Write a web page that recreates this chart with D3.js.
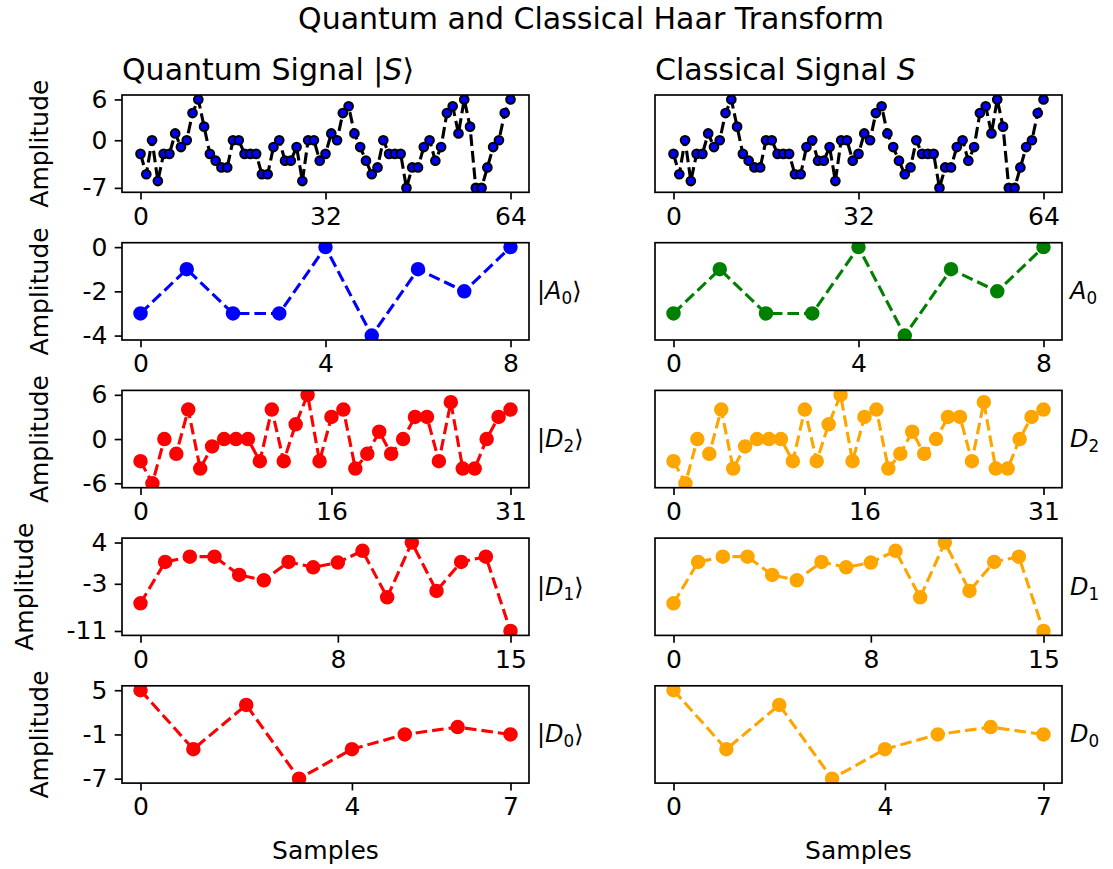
<!DOCTYPE html>
<html>
<head>
<meta charset="utf-8">
<script src="https://cdn.jsdelivr.net/npm/d3@7"></script>
<style>
body{margin:0;background:#fff;}
svg{font-family:'DejaVu Sans',sans-serif;}
</style>
</head>
<body>
<div class="chart-container"></div>
<script>
//Data
const signalValues = [-2,-5,0,-6,-2,-2,1,-1,0,4,6,2,-2,-3,-4,-4,0,0,-2,-2,-2,-5,-5,-1,0,-3,-3,-1,-6,0,0,-3,
                      -2,1,0,4,5,1,-1,-3,-5,-4,0,-2,-2,-2,-7,-4,-4,-1,0,-3,-1,4,5,1,6,2,-7,-7,-4,-1,0,4,6];
const a0Values = [-3,-1,-3,-3,0,-4,-1,-2,0];
const d2Values = [-3,-6,0,-2,4,-4,-1,0,0,0,-3,4,-3,2,6,-3,3,4,-4,-2,1,-2,0,3,3,-3,5,-4,-4,0,3,4];
const d1Values = [-6.3,0.7,1.6,1.6,-1.5,-2.4,0.7,-0.2,0.6,2.6,-5.3,4,-4.2,0.7,1.6,-11];
const d0Values = [5,-3,3,-7,-3,-1,0,-1];

//Tick labels
const xTicksList = [[0,32,64],[0,4,8],[0,16,31],[0,8,15],[0,4,7]];
const yTicksList = [[-7,0,6],[-4,-2,0],[-6,0,6],[-11,-3,4],[-7,-1,5]];

//Labels
const rowNames = ['S','A','D','D','D'];
const rowSubs = ['', '0', '2', '1', '0'];

const colors = {
    quantum: ['#000000','#0000ff','#ff0000','#ff0000','#ff0000'],
    classical: ['#000000','#008000','#ffa500','#ffa500','#ffa500']
};

const svg_width = 1113;
const svg_height = 869;
const colLeft = [122, 655];
const axW = 407;
const axH = 97.3;
const rowTop = 95;
const rowStep = 147.7;
const fs = 25;

const svg = d3.select('.chart-container').append('svg')
    .attr('width', svg_width).attr('height', svg_height);

const defs = svg.append('defs');

function fmt(v){
    return String(v);
}

//write mathtext-like label: parts [{t, it, sub}]
function mathText(sel, parts){
    parts.forEach(p => {
        const ts = sel.append('tspan').text(p.t);
        if (p.it) ts.style('font-style','italic');
        if (p.sub) ts.attr('font-size','70%').attr('dy','0.3em');
        if (p.back) ts.attr('dy','-0.21em');
    });
}

function drawPanel(col, row, data){
    const x0 = colLeft[col];
    const y0 = rowTop + row*rowStep;
    const n = data.length - 1;
    const yMin = d3.min(data), yMax = d3.max(data);
    const yPad = (yMax - yMin)*0.05;
    const xScale = d3.scaleLinear().domain([-0.05*n, 1.05*n]).range([0, axW]);
    const yScale = d3.scaleLinear().domain([yMin - yPad, yMax + yPad]).range([axH, 0]);

    const g = svg.append('g').attr('transform', `translate(${x0},${y0})`);
    const clipId = `clip-${col}-${row}`;
    defs.append('clipPath').attr('id', clipId)
        .append('rect').attr('width', axW).attr('height', axH);

    const plot = g.append('g').attr('clip-path', `url(#${clipId})`);
    const color = col == 0 ? colors.quantum[row] : colors.classical[row];
    const line = d3.line().x((d,i)=>xScale(i)).y(d=>yScale(d));
    plot.append('path').datum(data)
        .attr('d', line)
        .attr('fill','none')
        .attr('stroke', color)
        .attr('stroke-width', 3.1)
        .attr('stroke-dasharray','11.6,5');

    const isSignal = row == 0;
    plot.selectAll('circle').data(data).enter().append('circle')
        .attr('cx',(d,i)=>xScale(i)).attr('cy', d=>yScale(d))
        .attr('r', isSignal ? 4.3 : 6.2)
        .attr('fill', isSignal ? '#0000ff' : color)
        .attr('stroke', isSignal ? '#000' : color)
        .attr('stroke-width', 2.1);

    //x axis
    const xAxis = d3.axisBottom(xScale).tickValues(xTicksList[row]).tickFormat(fmt)
        .tickSizeInner(7.3).tickSizeOuter(0).tickPadding(7.3);
    const xAxisDraw = g.append('g').attr('transform',`translate(0,${axH})`).call(xAxis);
    xAxisDraw.select('.domain').remove();
    xAxisDraw.selectAll('line').attr('stroke-width',1.67);
    xAxisDraw.selectAll('text').attr('font-size', fs).attr('font-family','DejaVu Sans').attr('fill','#000');

    //y axis only on left column
    if (col == 0){
        const yAxis = d3.axisLeft(yScale).tickValues(yTicksList[row]).tickFormat(fmt)
            .tickSizeInner(7.3).tickSizeOuter(0).tickPadding(7.3);
        const yAxisDraw = g.append('g').call(yAxis);
        yAxisDraw.select('.domain').remove();
        yAxisDraw.selectAll('line').attr('stroke-width',1.67);
        yAxisDraw.selectAll('text').attr('font-size', fs).attr('font-family','DejaVu Sans').attr('fill','#000');

        let minLeft = 0;
        yAxisDraw.selectAll('text').each(function(){
            minLeft = Math.min(minLeft, -14.6 - this.getBBox().width);
        });
        g.append('text')
            .attr('transform', `translate(${minLeft - 34},${axH/2}) rotate(-90)`)
            .attr('text-anchor','middle')
            .attr('font-size', fs)
            .text('Amplitude');
    }

    //frame on top
    g.append('rect').attr('width', axW).attr('height', axH)
        .attr('fill','none').attr('stroke','#000').attr('stroke-width',1.67);

    //right-side label
    if (row > 0){
        const lab = g.append('text')
            .attr('x', axW + 8)
            .attr('y', axH/2 + 8)
            .attr('font-size', 24);
        if (col == 0){
            mathText(lab, [{t:'|'},{t:rowNames[row], it:true},{t:rowSubs[row], sub:true},{t:'\u27E9', back:true}]);
        } else {
            mathText(lab, [{t:rowNames[row], it:true},{t:rowSubs[row], sub:true}]);
        }
    }

    //Samples label on bottom row
    if (row == 4){
        g.append('text').attr('x', axW/2).attr('y', axH + 76)
            .attr('text-anchor','middle').attr('font-size', fs).text('Samples');
    }
    return g;
}

//Main
const allData = [signalValues, a0Values, d2Values, d1Values, d0Values];
allData.forEach((d,i) => {
    drawPanel(0, i, d);
    drawPanel(1, i, d);
});

//Titles
svg.append('text').attr('x', 591).attr('y', 29)
    .attr('text-anchor','middle').attr('font-size', 30)
    .text('Quantum and Classical Haar Transform');

const t1 = svg.append('text').attr('x', colLeft[0]).attr('y', 80).attr('font-size', 30);
mathText(t1, [{t:'Quantum Signal |'},{t:'S', it:true},{t:'\u27E9'}]);
const t2 = svg.append('text').attr('x', colLeft[1]).attr('y', 80).attr('font-size', 30);
mathText(t2, [{t:'Classical Signal '},{t:'S', it:true}]);
</script>
</body>
</html>
